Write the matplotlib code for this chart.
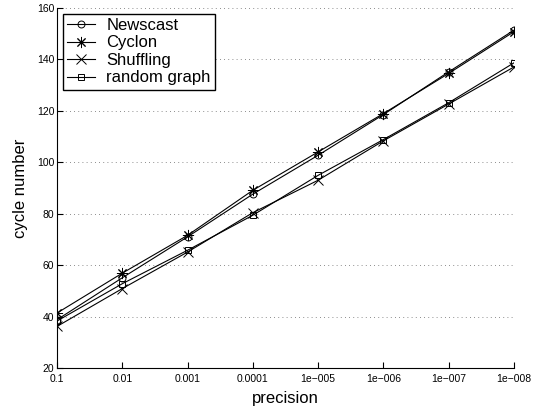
import matplotlib
matplotlib.use("Agg")
import matplotlib.pyplot as plt

plt.rcParams['font.family'] = ['Liberation Sans', 'DejaVu Sans']

precision_labels = ["0.1", "0.01", "0.001", "0.0001", "1e\u2212005", "1e\u2212006", "1e\u2212007", "1e\u2212008"]
newscast = [38.8, 55.1, 71.0, 87.6, 102.7, 118.5, 135.1, 151.3]
cyclon = [41.4, 56.9, 71.6, 89.1, 104.0, 118.9, 134.5, 150.7]
shuffling = [36.2, 50.9, 65.1, 80.4, 93.0, 108.3, 122.6, 137.0]
random_graph = [38.3, 52.8, 65.8, 79.4, 94.9, 108.8, 123.1, 138.6]
y_ticks = [20, 40, 60, 80, 100, 120, 140, 160]

fig = plt.figure(figsize=(5.38, 4.15), dpi=100)
ax = fig.add_axes([0.106, 0.113, 0.849, 0.868])

x = list(range(len(precision_labels)))
lw = 0.8
ax.plot(x, newscast, color='black', lw=lw, marker='o', ms=5, mfc='none', mew=0.7, label='Newscast')
ax.plot(x, cyclon, color='black', lw=lw, marker=(8, 2, 0), ms=8, mew=0.7, label='Cyclon')
ax.plot(x, shuffling, color='black', lw=lw, marker='x', ms=7, mew=0.7, label='Shuffling')
ax.plot(x, random_graph, color='black', lw=lw, marker='s', ms=5, mfc='none', mew=0.7, label='random graph')

ax.set_xlim(0, len(x) - 1)
ax.set_ylim(20, 160)
ax.set_xticks(x)
ax.set_xticklabels(precision_labels, fontsize=7.5)
ax.set_yticks(y_ticks)
ax.set_yticklabels([str(v) for v in y_ticks], fontsize=7.5)
ax.tick_params(direction='in', length=4, width=0.8)
ax.tick_params(axis='x', pad=4)
ax.tick_params(axis='y', pad=2)
for s in ['top', 'right']:
    ax.spines[s].set_visible(False)
for s in ['left', 'bottom']:
    ax.spines[s].set_linewidth(0.8)

ax.yaxis.grid(True, linestyle=(0, (1, 4)), color='black', lw=0.6, alpha=0.6)
ax.set_axisbelow(True)

ax.set_xlabel('precision', fontsize=12, labelpad=5)
ax.set_ylabel('cycle number', fontsize=12, labelpad=6)

leg = ax.legend(loc='upper left', fontsize=12, frameon=True, fancybox=False,
                edgecolor='black', framealpha=1, borderpad=0.25, labelspacing=0.15,
                handlelength=1.7, handletextpad=0.65, borderaxespad=0.35)
leg.get_frame().set_linewidth(1.0)

fig.savefig('out.png', dpi=100)
